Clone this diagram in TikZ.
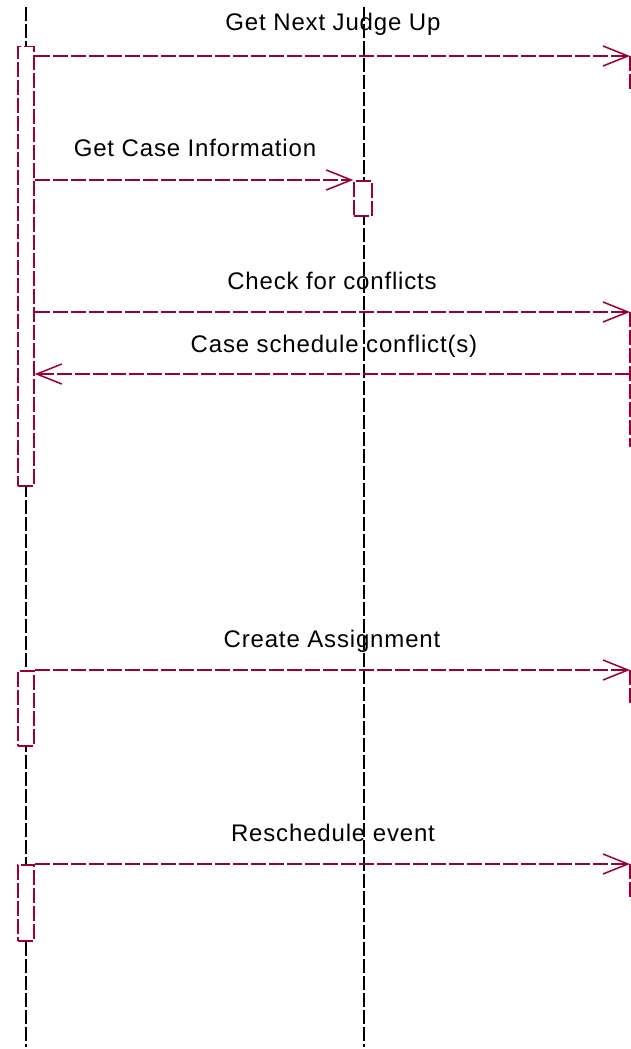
\documentclass[tikz,border=0pt]{standalone}
\usepackage{fontspec}
\setmainfont[LetterSpace=3.5]{Liberation Sans}
\usetikzlibrary{arrows.meta}
\definecolor{msgred}{RGB}{153,0,51}

\begin{document}
\begin{tikzpicture}[
        x=1pt, y=-1pt,
        font=\fontsize{24}{28}\selectfont,
        >={Straight Barb[length=25pt, width=20pt]},
        lifeline/.style={
            draw=black,
            line width=1.4pt,
            dash pattern=on 14pt off 3pt
        },
        activation/.style={
            draw=msgred,
            fill=white,
            line width=1.5pt,
            dash pattern=on 15pt off 3pt,
            minimum width=16pt,
            inner sep=0pt,
            anchor=north
        },
        msg/.style={->, draw=msgred, line width=1.5pt, dash pattern=on 15pt off 3pt},
        frame/.style={draw=msgred, line width=1.5pt, dash pattern=on 15pt off 3pt},
        label/.style={inner sep=0pt, anchor=base}
    ]

    \useasboundingbox (0,0) rectangle (631,1049);

    % Lifelines
    \coordinate (judgetop) at (26,7);
    \coordinate (judgebot) at (26,1047);
    \coordinate (casetop) at (364,7);
    \coordinate (casebot) at (364,1047);
    \draw[lifeline] (judgetop) -- (judgebot);
    \draw[lifeline] (casetop) -- (casebot);

    % Activations
    \node[activation, minimum height=439pt] (act1) at (26,46) {};
    \node[activation, minimum height=35pt, minimum width=18pt] (actcase) at (363,180) {};
    \node[activation, minimum height=75pt] (act2) at (26,670) {};
    \node[activation, minimum height=76pt] (act3) at (26,864) {};

    % Far lifeline ends
    \coordinate (next) at (630,56);
    \coordinate (nextend) at (630,92);
    \coordinate (check) at (630,312);
    \coordinate (checkend) at (630,447);
    \coordinate (reply) at (630,374);
    \coordinate (create) at (630,670);
    \coordinate (createend) at (630,706);
    \coordinate (resched) at (630,864);
    \coordinate (reschedend) at (630,900);

    % Messages
    \draw[msg] (act1.east |- next) -- (next);
    \draw[frame] (next) -- (nextend);
    \node[label] (nextlbl) at (333,31) {Get Next Judge Up};

    \draw[msg] (act1.east |- actcase.north) -- (actcase.north west);
    \node[label] (infolbl) at (195,156) {Get Case Information};

    \draw[msg] (act1.east |- check) -- (check);
    \draw[frame] (check) -- (checkend);
    \node[label] (checklbl) at (332,289) {Check for conflicts};

    \draw[msg] (reply) -- (act1.east |- reply);
    \node[label] (replylbl) at (334,352) {Case schedule conflict(s)};

    \draw[msg] (act2.north east) -- (create);
    \draw[frame] (create) -- (createend);
    \node[label] (createlbl) at (332,647) {Create Assignment};

    \draw[msg] (act3.north east) -- (resched);
    \draw[frame] (resched) -- (reschedend);
    \node[label] (reschedlbl) at (333,841) {Reschedule event};

\end{tikzpicture}
\end{document}
